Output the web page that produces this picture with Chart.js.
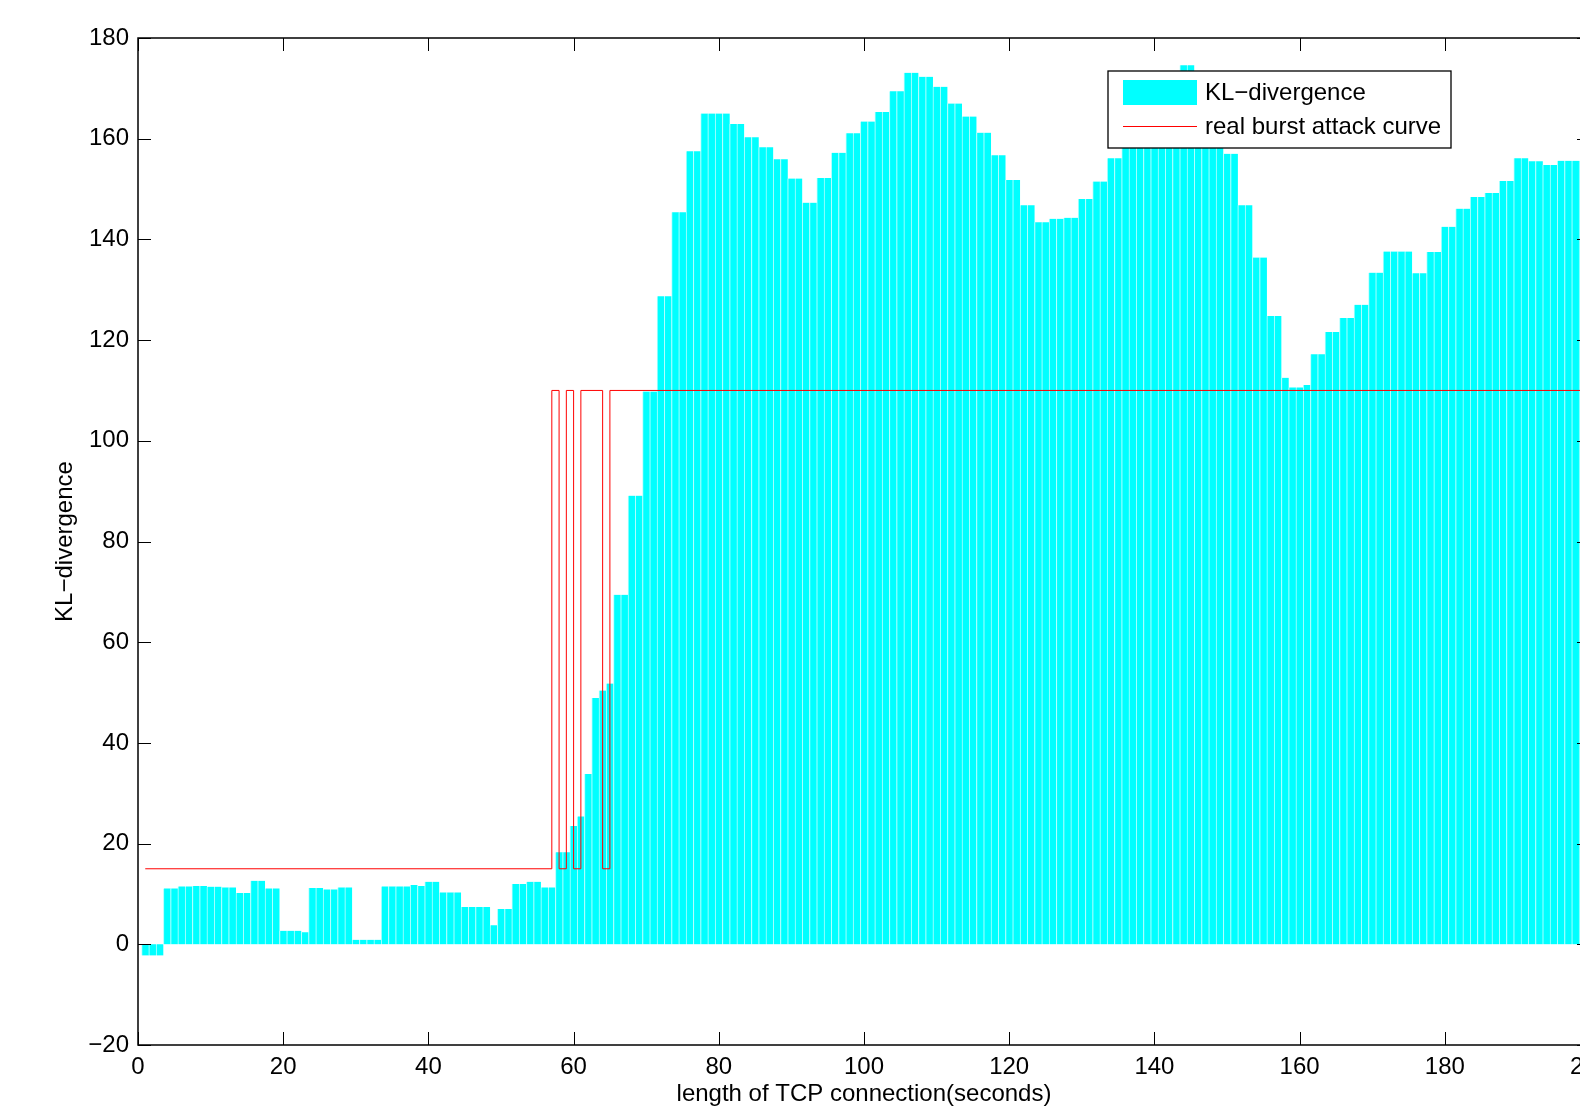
<!DOCTYPE html>
<html>
<head>
<meta charset="utf-8">
<script src="https://cdn.jsdelivr.net/npm/chart.js@4.4.0/dist/chart.umd.min.js"></script>
<style>
  html, body { margin: 0; padding: 0; background: #fff; overflow: hidden; }
  #wrap { position: relative; width: 1620px; height: 1109px; }
</style>
</head>
<body>
<div id="wrap"><canvas id="klChart"></canvas></div>
<script>
// one bar per second of the TCP connection
const seconds = Array.from({ length: 199 }, (_, i) => i + 1);

const klValues = [
    -2.2, -2.2, -2.2, 11.1, 11.1, 11.5, 11.5, 11.6, 11.6, 11.45,
    11.45, 11.3, 11.3, 10.2, 10.2, 12.6, 12.6, 11.1, 11.1, 2.7,
    2.7, 2.7, 2.4, 11.2, 11.2, 10.9, 10.9, 11.3, 11.3, 0.9,
    0.9, 0.9, 0.9, 11.5, 11.5, 11.5, 11.5, 11.8, 11.6, 12.4,
    12.4, 10.3, 10.3, 10.3, 7.4, 7.4, 7.4, 7.4, 3.8, 7.0,
    7.0, 12.0, 12.0, 12.4, 12.4, 11.3, 11.3, 18.3, 18.3, 23.5,
    25.4, 33.8, 48.9, 50.4, 51.8, 69.4, 69.4, 89.1, 89.1, 109.8,
    109.8, 128.7, 128.7, 145.4, 145.4, 157.5, 157.5, 165, 165, 165,
    165, 162.9, 162.9, 160.3, 160.3, 158.3, 158.3, 155.9, 155.9, 152.1,
    152.1, 147.3, 147.3, 152.2, 152.2, 157.2, 157.2, 161.1, 161.1, 163.4,
    163.4, 165.3, 165.3, 169.4, 169.4, 173.1, 173.1, 172.3, 172.3, 170.3,
    170.3, 167, 167, 164.4, 164.4, 161.2, 161.2, 156.7, 156.7, 151.8,
    151.8, 146.8, 146.8, 143.4, 143.4, 144.1, 144.1, 144.3, 144.3, 148,
    148, 151.5, 151.5, 156.1, 156.1, 160, 160, 164, 164, 168,
    168, 171, 171, 174.6, 174.6, 169, 169, 163, 163, 157,
    157, 146.8, 146.8, 136.4, 136.4, 124.8, 124.8, 112.5, 110.6, 110.6,
    111.1, 117.2, 117.2, 121.6, 121.6, 124.4, 124.4, 127, 127, 133.4,
    133.4, 137.6, 137.6, 137.6, 137.6, 133.3, 133.3, 137.5, 137.5, 142.5,
    142.5, 146.1, 146.1, 148.4, 148.4, 149.2, 149.2, 151.6, 151.6, 156.1,
    156.1, 155.5, 155.5, 154.8, 154.8, 155.6, 155.6, 155.6, 155.6
];

// real attack: change points of the step curve
const attackX = [1, 57, 58, 59, 60, 61, 64, 65, 200];
const attackY = [15, 110, 15, 110, 15, 110, 15, 110, 110];

const xTicks = [0, 20, 40, 60, 80, 100, 120, 140, 160, 180, 200];
const yTicks = [-20, 0, 20, 40, 60, 80, 100, 120, 140, 160, 180];

const fontFamily = "'Liberation Sans', Arial, sans-serif";

const minus = v => String(v).replace('-', '\u2212');

// MATLAB style box, inward ticks and legend
const matlabFrame = {
    id: 'matlabFrame',
    afterDraw(chart) {
        const { ctx, chartArea: a, scales: { x, y } } = chart;
        const tl = 13;
        ctx.save();
        ctx.strokeStyle = '#000';
        ctx.lineWidth = 1;
        ctx.beginPath();
        xTicks.forEach(v => {
            const px = Math.round(x.getPixelForValue(v)) + 0.5;
            ctx.moveTo(px, a.bottom); ctx.lineTo(px, a.bottom - tl);
            ctx.moveTo(px, a.top); ctx.lineTo(px, a.top + tl);
        });
        yTicks.forEach(v => {
            const py = Math.round(y.getPixelForValue(v)) + 0.5;
            ctx.moveTo(a.left, py); ctx.lineTo(a.left + tl, py);
            ctx.moveTo(a.right, py); ctx.lineTo(a.right - tl, py);
        });
        ctx.stroke();

        ctx.lineWidth = 1.5;
        ctx.strokeRect(a.left, a.top, a.right - a.left, a.bottom - a.top);

        // legend
        const ds = chart.data.datasets;
        ctx.fillStyle = '#fff';
        ctx.fillRect(1108, 71, 343, 77);
        ctx.lineWidth = 1.3;
        ctx.strokeRect(1108, 71, 343, 77);
        ctx.fillStyle = ds[0].backgroundColor;
        ctx.fillRect(1123, 80, 74, 25);
        ctx.strokeStyle = ds[1].borderColor;
        ctx.lineWidth = 1;
        ctx.beginPath();
        ctx.moveTo(1123, 126.5); ctx.lineTo(1197, 126.5);
        ctx.stroke();
        ctx.fillStyle = '#000';
        ctx.font = '24px ' + fontFamily;
        ctx.textBaseline = 'middle';
        ctx.fillText(ds[0].label, 1205, 93);
        ctx.fillText(ds[1].label, 1205, 127);
        ctx.restore();
    }
};

const ctx = document.getElementById('klChart').getContext('2d');
new Chart(ctx, {
    type: 'bar',
    data: {
        datasets: [
            {
                type: 'bar',
                label: 'KL\u2212divergence',
                data: seconds.map((s, i) => ({ x: s, y: klValues[i] })),
                backgroundColor: '#00ffff',
                borderColor: '#b0ffff',
                borderWidth: { left: 1, right: 0, top: 0, bottom: 0 },
                borderSkipped: false,
                barPercentage: 1,
                categoryPercentage: 1,
                order: 1
            },
            {
                type: 'line',
                label: 'real burst attack curve',
                data: attackX.map((xv, i) => ({ x: xv, y: attackY[i] })),
                borderColor: '#ff0000',
                borderWidth: 1,
                pointRadius: 0,
                stepped: true,
                fill: false,
                order: 0
            }
        ]
    },
    options: {
        responsive: true,
        maintainAspectRatio: false,
        animation: false,
        devicePixelRatio: 1,
        layout: { padding: { top: 38, right: 30, bottom: 0, left: 0 } },
        plugins: {
            legend: { display: false },
            tooltip: { enabled: false }
        },
        scales: {
            x: {
                type: 'linear',
                min: 0,
                max: 200,
                offset: false,
                grid: { display: false },
                border: { display: false },
                afterBuildTicks: s => { s.ticks = xTicks.map(v => ({ value: v })); },
                afterFit: s => { s.height = 64; },
                ticks: {
                    font: { family: fontFamily, size: 24 },
                    color: '#000',
                    padding: 0,
                    maxRotation: 0,
                    autoSkip: false,
                    callback: v => minus(v)
                },
                title: {
                    display: true,
                    text: 'length of TCP connection(seconds)',
                    font: { family: fontFamily, size: 24 },
                    color: '#000',
                    padding: { top: 0, bottom: 0 }
                }
            },
            y: {
                type: 'linear',
                min: -20,
                max: 180,
                grid: { display: false },
                border: { display: false },
                afterBuildTicks: s => { s.ticks = yTicks.map(v => ({ value: v })); },
                afterFit: s => { s.width = 138; },
                ticks: {
                    font: { family: fontFamily, size: 24 },
                    color: '#000',
                    padding: 1,
                    callback: v => minus(v)
                },
                title: {
                    display: true,
                    text: 'KL\u2212divergence',
                    font: { family: fontFamily, size: 24 },
                    color: '#000',
                    padding: { top: 51, bottom: 0 }
                }
            }
        }
    },
    plugins: [matlabFrame]
});
</script>
</body>
</html>
